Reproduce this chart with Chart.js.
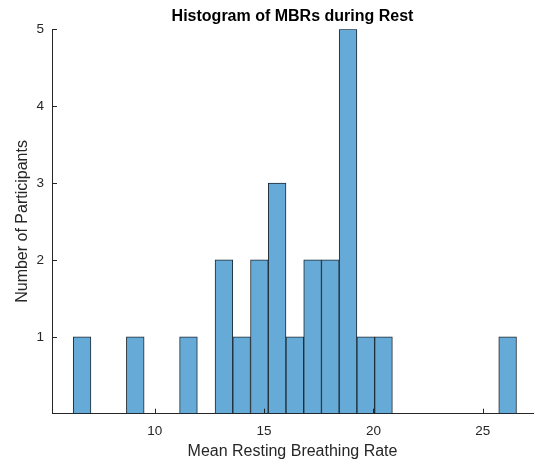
<!DOCTYPE html>
<html><head><meta charset="utf-8">
<script src="https://cdn.jsdelivr.net/npm/chart.js@4"></script>
<style>html,body{margin:0;padding:0;background:#fff}</style>
</head><body>
<canvas id="c" width="534" height="461" style="width:534px;height:461px;display:block"></canvas>
<script>
// Histogram bins: first edge and width of each bin
const binStart = 6.27;
const binWidth = 0.811;
// Count of participants in each of the 25 bins
const counts = [1,0,0,1,0,0,1,0,2,1,2,3,1,2,2,5,1,1,0,0,0,0,0,0,1];
const xTicks = [10, 15, 20, 25];
const yTicks = [1, 2, 3, 4, 5];

const points = counts.map((c, i) => ({ x: binStart + binWidth * (i + 0.5), y: c === 0 ? null : c }));
const ink = '#262626';
const fontFam = '"Liberation Sans", Arial, Helvetica, sans-serif';

const inwardTicks = {
  id: 'inwardTicks',
  afterDatasetsDraw(chart) {
    const { ctx, chartArea: a, scales: { x, y } } = chart;
    ctx.save();
    ctx.strokeStyle = ink; ctx.lineWidth = 1;
    ctx.beginPath();
    x.ticks.forEach(t => { const px = Math.round(x.getPixelForValue(t.value)) + 0.5; ctx.moveTo(px, a.bottom); ctx.lineTo(px, a.bottom - 5); });
    y.ticks.forEach(t => { const py = Math.round(y.getPixelForValue(t.value)) + 0.5; ctx.moveTo(a.left, py); ctx.lineTo(a.left + 5, py); });
    ctx.stroke();
    ctx.restore();
  }
};

new Chart(document.getElementById('c'), {
  type: 'bar',
  data: {
    datasets: [{
      data: points,
      backgroundColor: 'rgb(102,170,215)',
      borderColor: '#1e2a33',
      borderWidth: 1,
      borderSkipped: false,
      barPercentage: 1,
      categoryPercentage: 1,
      grouped: false
    }]
  },
  options: {
    responsive: false,
    devicePixelRatio: 1,
    animation: false,
    layout: { padding: { left: 0, right: 1, top: 0, bottom: 0 } },
    plugins: {
      legend: { display: false },
      tooltip: { enabled: false },
      title: {
        display: true,
        text: 'Histogram of MBRs during Rest',
        fullSize: false,
        color: '#000',
        font: { family: fontFam, size: 16, weight: 'bold' },
        padding: { top: 7, bottom: 3 }
      }
    },
    scales: {
      x: {
        type: 'linear',
        min: 5.3,
        max: 27.3,
        offset: false,
        grid: { display: false, drawTicks: false },
        border: { display: true, color: ink, width: 1 },
        afterBuildTicks: s => { s.ticks = xTicks.map(v => ({ value: v })); },
        afterFit: s => { s.height = 47.3; },
        ticks: { color: ink, padding: 9, font: { family: fontFam, size: 13.5 }, maxRotation: 0, autoSkip: false },
        title: { display: true, text: 'Mean Resting Breathing Rate', color: ink, font: { family: fontFam, size: 16 }, padding: { top: 0, bottom: 0 } }
      },
      y: {
        min: 0,
        max: 5,
        grid: { display: false, drawTicks: false },
        border: { display: true, color: ink, width: 1 },
        afterBuildTicks: s => { s.ticks = yTicks.map(v => ({ value: v })); },
        afterFit: s => { s.width = 52; },
        ticks: { color: ink, padding: 8, font: { family: fontFam, size: 13.5 } },
        title: { display: true, text: 'Number of Participants', color: ink, font: { family: fontFam, size: 16 }, padding: { top: 12.5, bottom: 0 } }
      }
    }
  },
  plugins: [inwardTicks]
});
</script>
</body></html>
